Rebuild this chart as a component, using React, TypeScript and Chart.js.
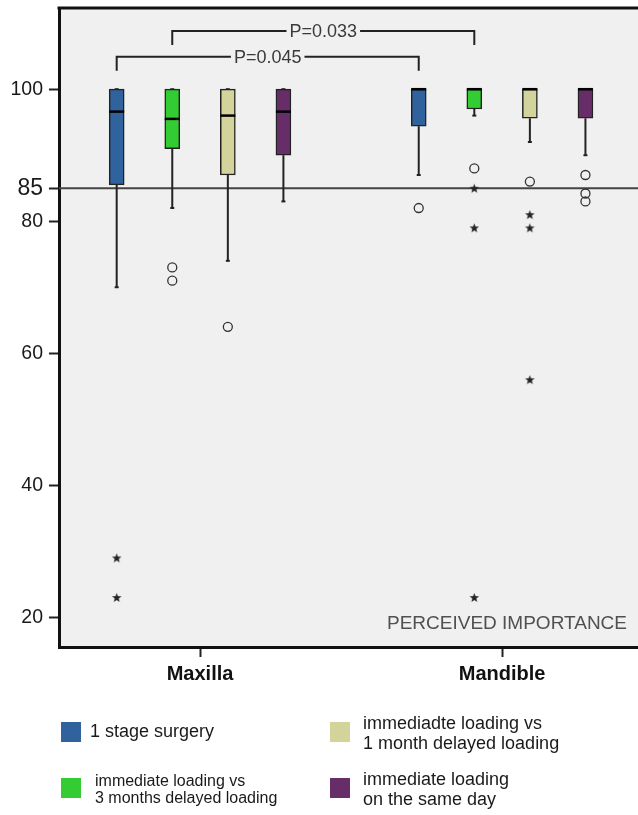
import React, { useEffect, useRef } from "react";
import { Chart, registerables } from "chart.js";

Chart.register(...registerables);

// ---------------- data ----------------
const categories = ["Maxilla", "Mandible"];
const seriesNames = [
  "1 stage surgery",
  "immediate loading vs 3 months delayed loading",
  "immediadte loading vs 1 month delayed loading",
  "immediate loading on the same day",
];
const legendLines = [
  ["1 stage surgery"],
  ["immediate loading vs", "3 months delayed loading"],
  ["immediadte loading vs", "1 month delayed loading"],
  ["immediate loading", "on the same day"],
];
const seriesColors = ["#30639e", "#33cc33", "#d3d39c", "#662d69"];

// per series: [Maxilla, Mandible]
const whiskerLow = [[70, 87], [82, 96], [74, 92], [83, 90]];
const q1 = [[85.5, 94.4], [91, 97], [87, 95.6], [90, 95.6]];
const median = [[96.6, 100], [95.5, 100], [96, 100], [96.6, 100]];
const q3 = [[100, 100], [100, 100], [100, 100], [100, 100]];
const whiskerHigh = [[100, 100], [100, 100], [100, 100], [100, 100]];
const outliers = [[[], [82]], [[73, 71], [88]], [[64], [86]], [[], [87, 84.2, 83]]];
const extremes = [[[29, 23], []], [[], [85, 79, 23]], [[], [81, 79, 56]], [[], []]];

const yTicks = [20, 40, 60, 80, 85, 100];
const referenceValue = 85;
const pLabels = ["P=0.045", "P=0.033"];
const pSeries = [0, 1];
const pLevels = [104.9, 108.8];
const annotationText = "PERCEIVED IMPORTANCE";

// ---------------- layout helpers ----------------
const FONT = "'Liberation Sans', Arial, Helvetica, sans-serif";
const SPREAD = 0.184;
const xPos = (i: number, g: number) => g + (i - 1.5) * SPREAD;

function makeStar(): HTMLCanvasElement {
  const c = document.createElement("canvas");
  c.width = 11;
  c.height = 11;
  const g = c.getContext("2d")!;
  g.fillStyle = "#222";
  g.beginPath();
  for (let k = 0; k < 10; k++) {
    const r = k % 2 === 0 ? 5 : 2.1;
    const a = -Math.PI / 2 + (k * Math.PI) / 5;
    const px = 5.5 + r * Math.cos(a);
    const py = 5.9 + r * Math.sin(a);
    if (k === 0) g.moveTo(px, py);
    else g.lineTo(px, py);
  }
  g.closePath();
  g.fill();
  return c;
}

const zeroPadding = (s: any) => {
  s.paddingTop = 0;
  s.paddingBottom = 0;
  s.paddingLeft = 0;
  s.paddingRight = 0;
};

const boxPlugin = {
  id: "boxExtras",
  beforeDraw(chart: any) {
    const { ctx, chartArea } = chart;
    ctx.save();
    ctx.fillStyle = "#ffffff";
    ctx.fillRect(0, 0, chart.width, chart.height);
    ctx.fillStyle = "#f0f0f0";
    ctx.fillRect(chartArea.left, chartArea.top, chartArea.right - chartArea.left, chartArea.bottom - chartArea.top);
    ctx.restore();
  },
  beforeDatasetsDraw(chart: any) {
    const { ctx, chartArea, scales } = chart;
    const xs = scales.x;
    const ys = scales.y;
    ctx.save();
    // reference line
    const ry = ys.getPixelForValue(referenceValue);
    ctx.strokeStyle = "#444";
    ctx.lineWidth = 2;
    ctx.beginPath();
    ctx.moveTo(chartArea.left, ry);
    ctx.lineTo(chartArea.right, ry);
    ctx.stroke();
    // whiskers
    ctx.strokeStyle = "#222";
    ctx.lineWidth = 2;
    for (let i = 0; i < seriesNames.length; i++) {
      for (let g = 0; g < categories.length; g++) {
        const x = xs.getPixelForValue(xPos(i, g));
        const segs = [
          [q3[i][g], whiskerHigh[i][g]],
          [q1[i][g], whiskerLow[i][g]],
        ];
        for (const [a, b] of segs) {
          const ya = ys.getPixelForValue(a);
          const yb = ys.getPixelForValue(b);
          ctx.beginPath();
          ctx.moveTo(x, ya);
          ctx.lineTo(x, yb);
          ctx.stroke();
          ctx.beginPath();
          ctx.moveTo(x - 2, yb);
          ctx.lineTo(x + 2, yb);
          ctx.stroke();
        }
      }
    }
    ctx.restore();
  },
  afterDatasetsDraw(chart: any) {
    const { ctx, chartArea, scales } = chart;
    const xs = scales.x;
    const ys = scales.y;
    ctx.save();
    // medians
    ctx.strokeStyle = "#000";
    ctx.lineWidth = 2.5;
    for (let i = 0; i < seriesNames.length; i++) {
      for (let g = 0; g < categories.length; g++) {
        const x = xs.getPixelForValue(xPos(i, g));
        const y = ys.getPixelForValue(median[i][g]);
        ctx.beginPath();
        ctx.moveTo(x - 7.5, y);
        ctx.lineTo(x + 7.5, y);
        ctx.stroke();
      }
    }
    // significance brackets
    ctx.font = `18px ${FONT}`;
    ctx.textAlign = "center";
    ctx.textBaseline = "middle";
    for (let k = 0; k < pLabels.length; k++) {
      const x0 = xs.getPixelForValue(xPos(pSeries[k], 0));
      const x1 = xs.getPixelForValue(xPos(pSeries[k], 1));
      const y = ys.getPixelForValue(pLevels[k]);
      const cx = (x0 + x1) / 2;
      const tw = ctx.measureText(pLabels[k]).width;
      ctx.strokeStyle = "#222";
      ctx.lineWidth = 2;
      ctx.beginPath();
      ctx.moveTo(x0, y + 14);
      ctx.lineTo(x0, y);
      ctx.lineTo(cx - tw / 2 - 3, y);
      ctx.moveTo(cx + tw / 2 + 3, y);
      ctx.lineTo(x1, y);
      ctx.lineTo(x1, y + 14);
      ctx.stroke();
      ctx.fillStyle = "#3a3a3a";
      ctx.fillText(pLabels[k], cx, y + 1);
    }
    // annotation
    ctx.font = `19px ${FONT}`;
    ctx.textAlign = "right";
    ctx.fillStyle = "#505050";
    ctx.fillText(annotationText, chartArea.right - 11, chartArea.bottom - 23);
    ctx.restore();
  },
  afterDraw(chart: any) {
    const { ctx, chartArea } = chart;
    ctx.save();
    // top frame line
    ctx.strokeStyle = "#111";
    ctx.lineWidth = 3;
    ctx.beginPath();
    ctx.moveTo(chartArea.left - 1.5, chartArea.top);
    ctx.lineTo(chartArea.right, chartArea.top);
    ctx.stroke();
    // legend
    const colX = [61, 330];
    const rowY = [722, 778];
    const textGap = [9, 14, 13, 13];
    const fontSizes = [18, 16, 18, 18];
    const lineH = [20, 17.5, 20, 20];
    const cells = [
      [0, 0],
      [0, 1],
      [1, 0],
      [1, 1],
    ];
    ctx.textAlign = "left";
    ctx.textBaseline = "middle";
    for (let i = 0; i < legendLines.length; i++) {
      const [c, r] = cells[i];
      const sx = colX[c];
      const sy = rowY[r];
      ctx.fillStyle = seriesColors[i];
      ctx.fillRect(sx, sy, 20, 20);
      ctx.fillStyle = "#1a1a1a";
      ctx.font = `${fontSizes[i]}px ${FONT}`;
      const lines = legendLines[i];
      const cy = sy + 10 + (lines.length > 1 ? 2 : 0);
      lines.forEach((t, li) => {
        const ty = cy + (li - (lines.length - 1) / 2) * lineH[i];
        ctx.fillText(t, sx + 20 + textGap[i], ty);
      });
    }
    ctx.restore();
  },
};

export default function App() {
  const ref = useRef<HTMLCanvasElement>(null);
  useEffect(() => {
    const star = makeStar();
    const barSets = seriesNames.map((name, i) => ({
      type: "bar" as const,
      label: name,
      data: categories.map((_, g) => ({ x: xPos(i, g), y: [q1[i][g], q3[i][g]] })),
      backgroundColor: seriesColors[i],
      borderColor: "#222",
      borderWidth: 1.5,
      borderSkipped: false,
      barThickness: 15,
      maxBarThickness: 15,
      grouped: false,
      order: 2,
    }));
    const circlePts: { x: number; y: number }[] = [];
    const starPts: { x: number; y: number }[] = [];
    for (let i = 0; i < seriesNames.length; i++) {
      for (let g = 0; g < categories.length; g++) {
        outliers[i][g].forEach((v) => circlePts.push({ x: xPos(i, g), y: v }));
        extremes[i][g].forEach((v) => starPts.push({ x: xPos(i, g), y: v }));
      }
    }
    const chart = new Chart(ref.current!, {
      type: "bar",
      data: {
        datasets: [
          ...barSets,
          {
            type: "scatter",
            label: "outliers",
            data: circlePts,
            pointStyle: "circle",
            radius: 4.5,
            borderColor: "#333",
            borderWidth: 1.3,
            backgroundColor: "rgba(0,0,0,0)",
            order: 0,
          },
          {
            type: "scatter",
            label: "extremes",
            data: starPts,
            pointStyle: star,
            radius: 5,
            order: 0,
          },
        ] as any,
      },
      options: {
        responsive: false,
        animation: false,
        devicePixelRatio: 1,
        layout: { autoPadding: false, padding: { top: 8, right: 0, bottom: 128, left: 0 } },
        plugins: { legend: { display: false }, tooltip: { enabled: false } },
        scales: {
          x: {
            type: "linear",
            min: -0.467,
            max: 1.45,
            offset: false,
            afterFit: (s: any) => {
              s.height = 40;
              zeroPadding(s);
            },
            afterBuildTicks: (s: any) => {
              s.ticks = categories.map((_, g) => ({ value: g }));
            },
            grid: {
              offset: false,
              drawOnChartArea: false,
              drawTicks: true,
              tickLength: 10,
              tickWidth: 2,
              tickColor: "#222",
            },
            border: { display: true, color: "#111", width: 3 },
            ticks: {
              padding: 5,
              maxRotation: 0,
              autoSkip: false,
              color: "#111",
              font: { family: FONT, size: 20, weight: "bold" },
              callback: (_v: any, idx: number) => categories[idx],
            },
          },
          y: {
            type: "linear",
            min: 15.5,
            max: 112.3,
            afterFit: (s: any) => {
              s.width = 59;
              zeroPadding(s);
            },
            afterBuildTicks: (s: any) => {
              s.ticks = yTicks.map((v) => ({ value: v }));
            },
            grid: {
              drawOnChartArea: false,
              drawTicks: true,
              tickLength: 10,
              tickWidth: 2,
              tickColor: "#222",
            },
            border: { display: true, color: "#111", width: 3 },
            ticks: {
              padding: 6,
              autoSkip: false,
              color: "#1a1a1a",
              font: (c: any) => ({ family: FONT, size: c.tick && c.tick.value === referenceValue ? 23 : 19.5 }),
              callback: (v: any) => String(v),
            },
          },
        },
      } as any,
      plugins: [boxPlugin],
    });
    return () => chart.destroy();
  }, []);
  return (
    <div style={{ position: "absolute", left: 0, top: 0, width: 638, height: 815 }}>
      <canvas ref={ref} width={638} height={815} style={{ display: "block" }} />
    </div>
  );
}
